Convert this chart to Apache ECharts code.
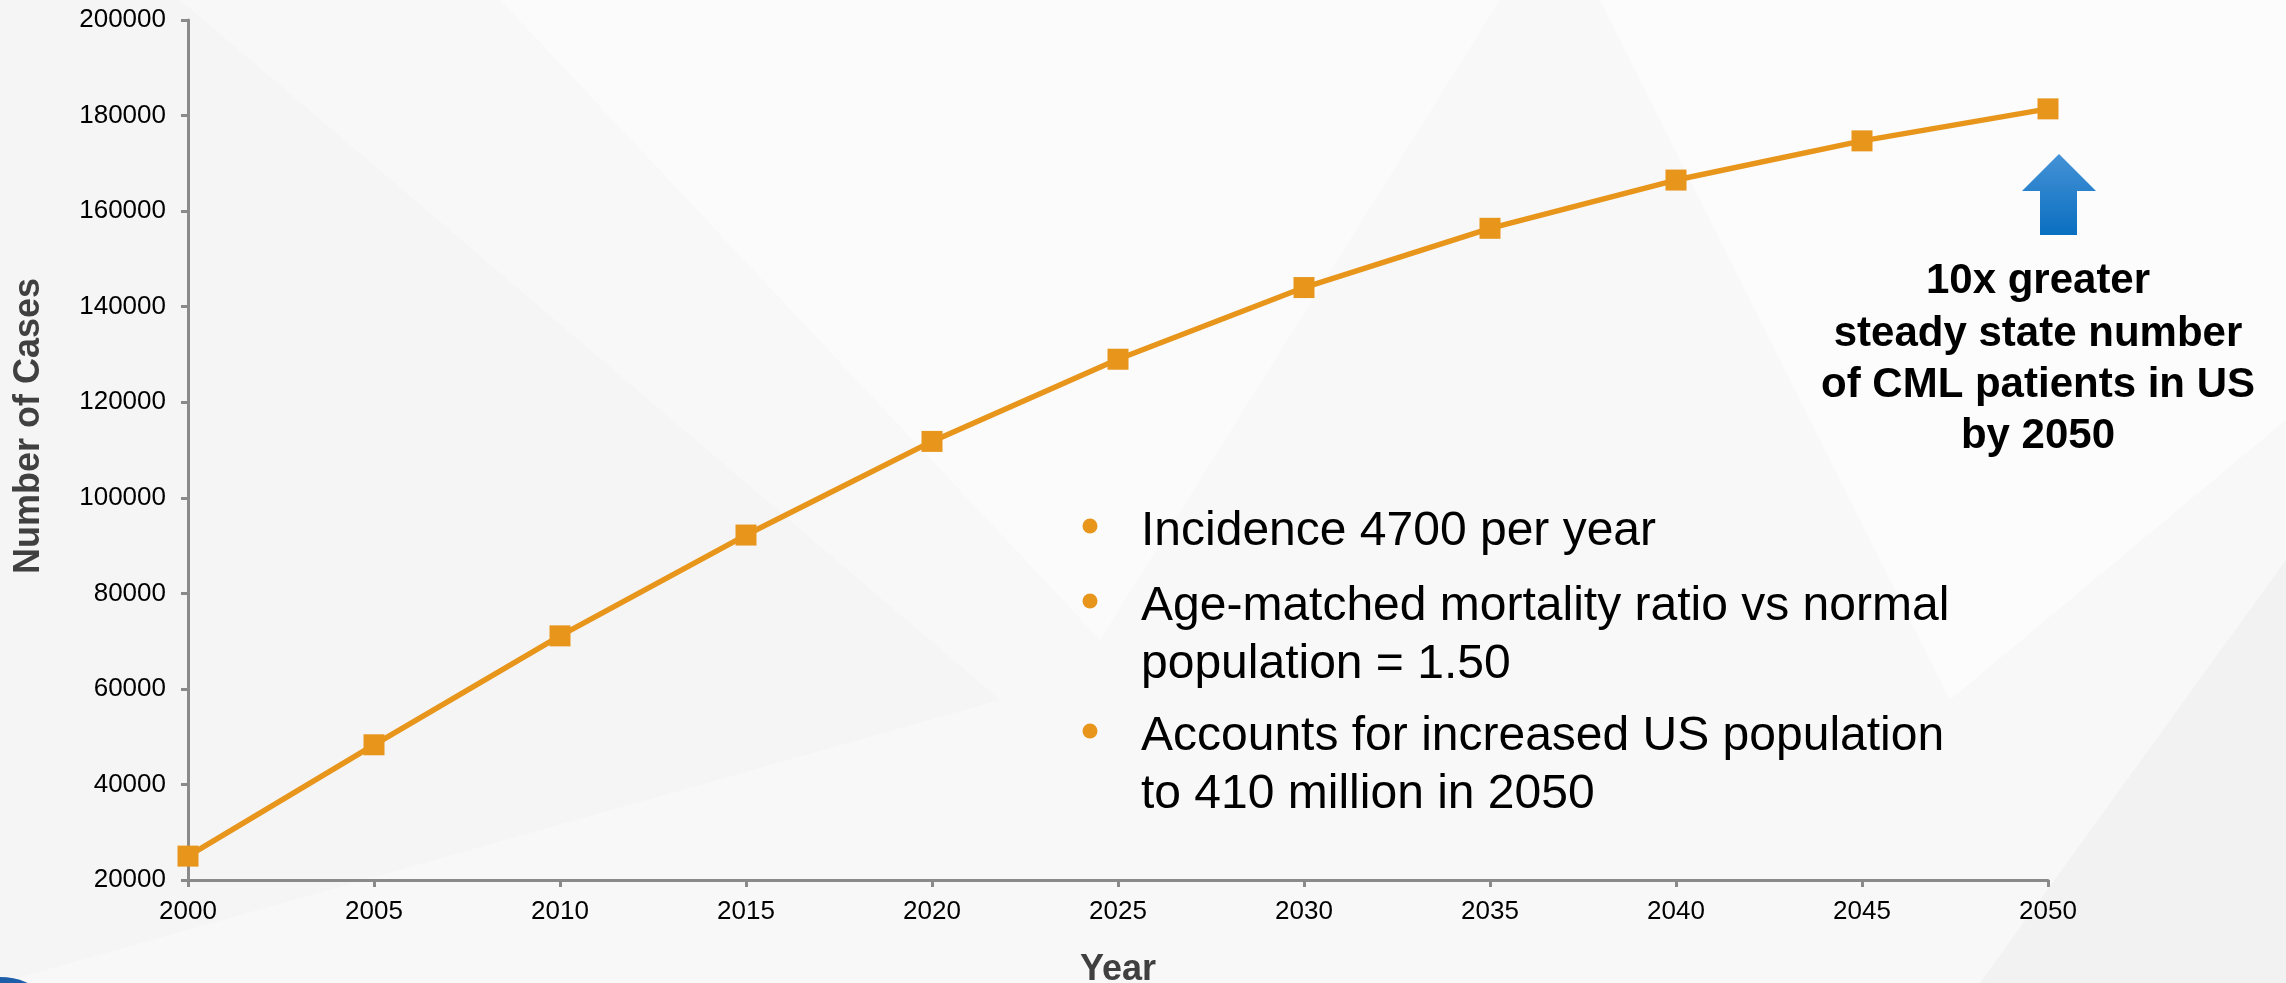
<!DOCTYPE html>
<html>
<head>
<meta charset="utf-8">
<title>CML prevalence projection</title>
<script src="https://cdn.jsdelivr.net/npm/echarts@6/dist/echarts.min.js"></script>
<style>
  html, body { margin: 0; padding: 0; background: #f8f8f8; }
  #chart { width: 2286px; height: 983px; }
</style>
</head>
<body>
<div id="chart"></div>
<script>
// Projected number of CML cases in the US, 2000-2050
const years = [2000, 2005, 2010, 2015, 2020, 2025, 2030, 2035, 2040, 2045, 2050];
const cases = [25000, 48300, 71100, 92200, 111800, 129000, 144000, 156400, 166500, 174700, 181400];

const yTicks = { min: 20000, max: 200000, step: 20000 };
const xTicks = { min: 2000, max: 2050, step: 5 };

const bulletLines = [
  { text: 'Incidence 4700 per year', bullet: true },
  { text: 'Age-matched mortality ratio vs normal', bullet: true },
  { text: 'population = 1.50', bullet: false },
  { text: 'Accounts for increased US population', bullet: true },
  { text: 'to 410 million in 2050', bullet: false }
];
const calloutLines = ['10x greater', 'steady state number', 'of CML patients in US', 'by 2050'];

const ORANGE = '#E8951C';
const AXIS_GREY = '#8a8a8a';
const FONT = '"Liberation Sans", Arial, Helvetica, sans-serif';

const chart = echarts.init(document.getElementById('chart'), null, { renderer: 'canvas' });

// bullet list block
const bulletY = [532, 607, 665, 737, 795];
const bulletEls = [];
bulletLines.forEach((ln, i) => {
  if (ln.bullet) {
    bulletEls.push({
      type: 'circle', silent: true,
      shape: { cx: 1090, cy: bulletY[i] - 6, r: 7.5 },
      style: { fill: ORANGE }
    });
  }
  bulletEls.push({
    type: 'text', silent: true,
    x: 1141, y: bulletY[i],
    style: {
      text: ln.text, fill: '#000', font: '48px ' + FONT,
      textAlign: 'left', textVerticalAlign: 'middle'
    }
  });
});

// bold callout under the arrow
const calloutY = [281, 334, 385, 436];
const calloutEls = calloutLines.map((t, i) => ({
  type: 'text', silent: true,
  x: 2038, y: calloutY[i],
  style: {
    text: t, fill: '#000', font: 'bold 42px ' + FONT,
    textAlign: 'center', textVerticalAlign: 'middle'
  }
}));

const option = {
  backgroundColor: '#f8f8f8',
  animation: false,
  grid: { left: 188, right: 238, top: 20, bottom: 103, containLabel: false, outerBoundsMode: 'none' },
  xAxis: {
    type: 'value',
    min: xTicks.min, max: xTicks.max, interval: xTicks.step,
    name: 'Year', nameLocation: 'middle', nameGap: 72,
    nameTextStyle: { fontFamily: FONT, fontSize: 36, fontWeight: 'bold', color: '#404040' },
    axisLine: { show: true, onZero: false, lineStyle: { color: AXIS_GREY, width: 3 } },
    axisTick: { show: true, length: 7, lineStyle: { color: AXIS_GREY, width: 3 } },
    axisLabel: { color: '#000', fontFamily: FONT, fontSize: 26, margin: 19, formatter: v => String(v) },
    splitLine: { show: false }
  },
  yAxis: {
    type: 'value',
    min: yTicks.min, max: yTicks.max, interval: yTicks.step,
    name: 'Number of Cases', nameLocation: 'middle', nameGap: 141,
    nameTextStyle: { fontFamily: FONT, fontSize: 36, fontWeight: 'bold', color: '#404040', padding: [0, 0, 0, 48] },
    axisLine: { show: true, lineStyle: { color: AXIS_GREY, width: 3 } },
    axisTick: { show: true, length: 7, lineStyle: { color: AXIS_GREY, width: 3 } },
    axisLabel: { color: '#000', fontFamily: FONT, fontSize: 26, margin: 22, formatter: v => String(v) },
    splitLine: { show: false }
  },
  series: [{
    type: 'line',
    data: years.map((y, i) => [y, cases[i]]),
    symbol: 'rect', symbolSize: 21, showSymbol: true,
    lineStyle: { color: ORANGE, width: 5.5 },
    itemStyle: { color: ORANGE },
    z: 5
  }],
  graphic: [
    // faint background facets
    { type: 'polygon', silent: true, z: -10, shape: { points: [[0, 0], [180, 0], [1000, 700], [0, 983]] }, style: { fill: '#f5f5f5' } },
    { type: 'polygon', silent: true, z: -10, shape: { points: [[500, 0], [1500, 0], [1100, 640]] }, style: { fill: '#fbfbfb' } },
    { type: 'polygon', silent: true, z: -10, shape: { points: [[1600, 0], [2286, 0], [2286, 420], [1950, 700]] }, style: { fill: '#fcfcfc' } },
    { type: 'polygon', silent: true, z: -10, shape: { points: [[2286, 560], [2286, 983], [1980, 983]] }, style: { fill: '#f2f2f2' } },
    // logo corner
    { type: 'circle', silent: true, z: 10, shape: { cx: 0, cy: 1045, r: 68 }, style: { fill: '#1c5ea8' } },
    // up arrow
    {
      type: 'polygon', silent: true, z: 10,
      shape: { points: [[2059, 154], [2096, 191], [2077, 191], [2077, 235], [2040, 235], [2040, 191], [2022, 191]] },
      style: {
        fill: new echarts.graphic.LinearGradient(0, 0, 0, 1, [
          { offset: 0, color: '#4592d6' },
          { offset: 1, color: '#0a6fc0' }
        ])
      }
    },
    ...bulletEls,
    ...calloutEls
  ]
};

chart.setOption(option);
</script>
</body>
</html>
